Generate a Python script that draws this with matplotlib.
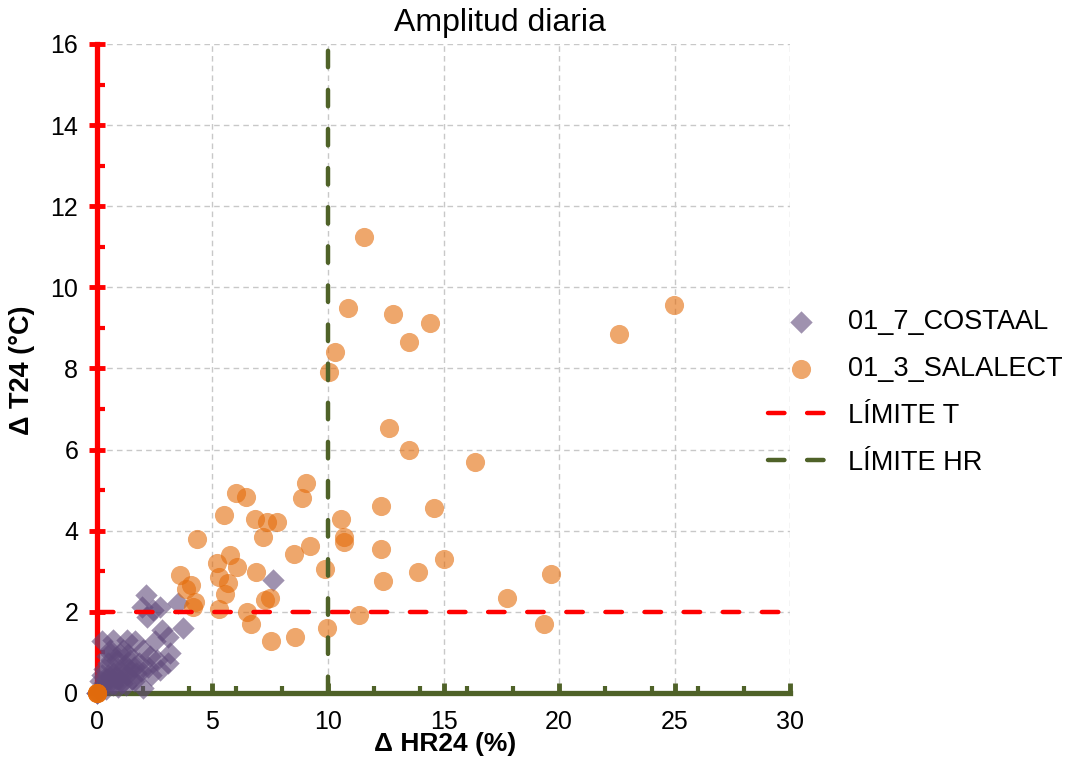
import matplotlib
matplotlib.use("Agg")
import matplotlib.pyplot as plt
from matplotlib.ticker import MultipleLocator

plt.rcParams["font.family"] = ["Liberation Sans", "DejaVu Sans"]

# 01_7_COSTAAL (purple diamonds)
costaal_hr = [7.60, 2.12, 1.93, 2.44, 2.73, 2.15, 3.52, 3.71, 2.80, 3.09,
              0.71, 0.20, 1.29, 1.65, 2.51, 3.16, 3.09, 0.56, 1.14, 2.00,
              2.29, 2.58, 0.85, 0.42, 1.43, 2.73, 2.00,
              0.10, 0.20, 0.30, 0.40, 0.50, 0.60, 0.70, 0.80, 0.90, 1.00,
              1.10, 1.20, 1.30, 1.40, 1.50, 1.60, 1.70, 1.80, 1.90, 0.30,
              0.50, 0.70, 0.90, 1.10, 0.40, 0.20, 0.60, 1.00, 1.35, 0.00,
              0.00, 0.15, 0.85, 1.25, 1.60, 2.20, 2.35]
costaal_t = [2.79, 2.42, 2.13, 2.05, 2.13, 1.88, 2.21, 1.61, 1.55, 1.39,
             1.31, 1.27, 1.31, 1.27, 1.27, 0.98, 0.73, 1.06, 1.06, 1.06,
             0.90, 0.81, 0.81, 0.90, 0.81, 0.57, 0.12,
             0.05, 0.15, 0.25, 0.35, 0.45, 0.30, 0.50, 0.40, 0.60, 0.30,
             0.55, 0.70, 0.45, 0.60, 0.35, 0.65, 0.50, 0.75, 0.55, 0.60,
             0.75, 0.20, 0.15, 0.25, 0.10, 0.45, 0.95, 0.95, 0.95, 0.00,
             0.00, 0.30, 0.35, 0.20, 0.30, 0.65, 0.45]

# 01_3_SALALECT (orange circles)
salalect_hr = [24.99, 22.61, 11.56, 10.88, 12.83, 14.42, 13.51, 10.30, 10.03, 12.66,
               13.51, 16.34, 9.03, 8.89, 6.02, 6.44, 5.50, 6.85, 7.35, 7.81,
               7.17, 4.31, 10.56, 10.69, 10.71, 12.30, 12.30, 14.60, 9.24, 8.53,
               9.88, 5.76, 5.18, 6.04, 5.27, 5.68, 6.89, 5.54, 5.29, 3.61,
               4.08, 3.87, 4.24, 4.17, 7.51, 7.26, 6.48, 6.65, 7.52, 8.58,
               9.94, 12.36, 13.90, 11.36, 15.02, 19.64, 17.73, 19.35,
               0.0, 0.0, 0.0, 0.0]
salalect_t = [9.57, 8.84, 11.25, 9.50, 9.35, 9.13, 8.65, 8.40, 7.92, 6.52,
              6.00, 5.69, 5.17, 4.80, 4.92, 4.83, 4.39, 4.29, 4.22, 4.22,
              3.84, 3.80, 4.28, 3.84, 3.72, 4.60, 3.55, 4.55, 3.62, 3.43,
              3.06, 3.39, 3.21, 3.10, 2.85, 2.70, 2.98, 2.44, 2.06, 2.92,
              2.65, 2.56, 2.25, 2.13, 2.33, 2.29, 2.00, 1.70, 1.28, 1.39,
              1.59, 2.76, 2.97, 1.92, 3.30, 2.94, 2.35, 1.69,
              0.0, 0.0, 0.0, 0.0]

limite_t = 2
limite_hr = 10
x_range = [0, 30]
y_range = [0, 16]

fig = plt.figure(figsize=(10.65, 7.58), dpi=100)
ax = fig.add_axes([0.091, 0.0858, 0.651, 0.8562])

ax.scatter(costaal_hr, costaal_t, marker="D", s=130, color="#604A7B",
           alpha=0.6, linewidths=0, label="01_7_COSTAAL", zorder=3,
           clip_on=False)
ax.scatter(salalect_hr, salalect_t, marker="o", s=190, color="#E46C0A",
           alpha=0.6, linewidths=0, label="01_3_SALALECT", zorder=3,
           clip_on=False)
ax.plot(x_range, [limite_t, limite_t], color="#FF0000", lw=3.2,
        linestyle=(0, (3.7, 5.1)), dash_capstyle="round",
        label="LÍMITE T", zorder=4)
ax.plot([limite_hr, limite_hr], y_range, color="#4F6228", lw=3.2,
        linestyle=(0, (3.7, 5.1)), dash_capstyle="round",
        label="LÍMITE HR", zorder=4)

ax.set_xlim(x_range)
ax.set_ylim(y_range)
ax.xaxis.set_major_locator(MultipleLocator(5))
ax.xaxis.set_minor_locator(MultipleLocator(2))
ax.yaxis.set_major_locator(MultipleLocator(2))
ax.yaxis.set_minor_locator(MultipleLocator(1))

ax.grid(True, which="major", color="#C8C8C8", linestyle=(0, (4, 3)), lw=1)
ax.set_axisbelow(True)

for side in ("top", "right"):
    ax.spines[side].set_visible(False)
ax.spines["left"].set_color("#FF0000")
ax.spines["left"].set_linewidth(3.8)
ax.spines["bottom"].set_color("#4F6228")
ax.spines["bottom"].set_linewidth(3.8)
ax.spines["left"].set_zorder(2)
ax.spines["bottom"].set_zorder(2)

ax.tick_params(axis="y", which="major", direction="inout", length=11,
               width=3.5, color="#FF0000", labelsize=18, pad=8)
ax.tick_params(axis="y", which="minor", direction="in", length=6,
               width=3, color="#FF0000")
ax.tick_params(axis="x", which="major", direction="in", length=7,
               width=3.5, color="#4F6228", labelsize=18, pad=12)
ax.tick_params(axis="x", which="minor", direction="in", length=5,
               width=3, color="#4F6228")

fig.text(500 / 1065, 1 - 23 / 758, "Amplitud diaria", fontsize=23,
         ha="center", va="center")
fig.text(445 / 1065, 1 - 744 / 758, "Δ HR24 (%)", fontsize=19,
         fontweight="bold", ha="center", va="center")
fig.text(22 / 1065, 1 - 370 / 758, "Δ T24 (°C)", fontsize=19.5,
         fontweight="bold", ha="center", va="center", rotation=90)

leg = ax.legend(loc="upper left", bbox_to_anchor=(768 / 1065, 1 - 309 / 758),
                bbox_transform=fig.transFigure, frameon=False, fontsize=19.5,
                handlelength=2.4, handletextpad=0.55, labelspacing=0.77,
                borderpad=0, borderaxespad=0)

fig.savefig("out.png", dpi=100)
